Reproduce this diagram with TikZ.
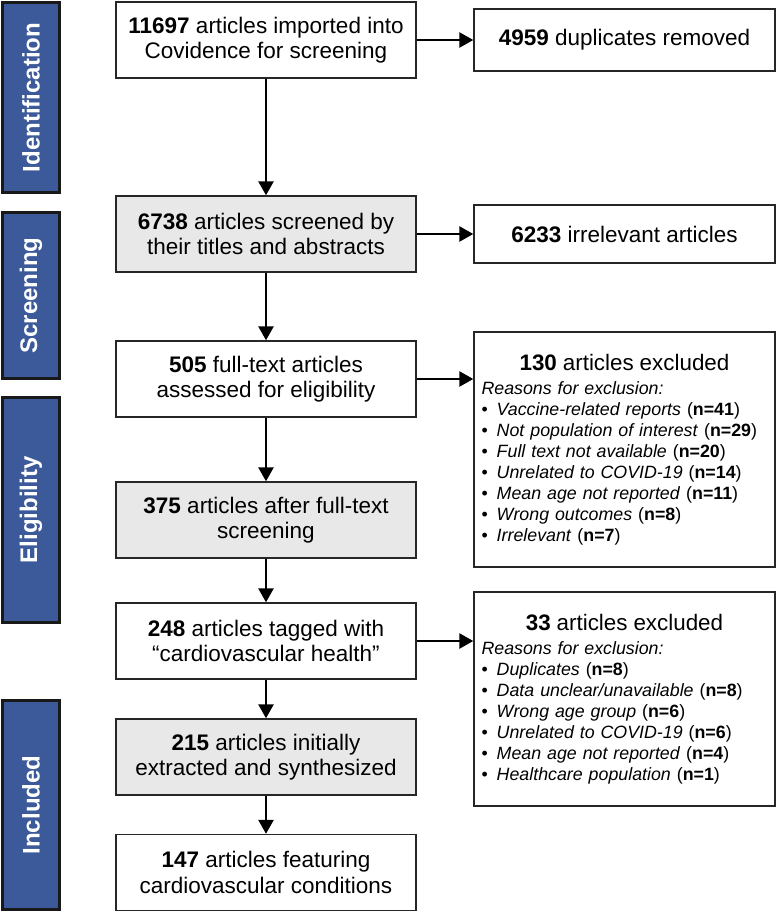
\documentclass[tikz,border=0pt]{standalone}
\usepackage{fontspec}
\setmainfont{Liberation Sans}
\usetikzlibrary{arrows.meta}
\definecolor{stageblue}{RGB}{60,90,153}
\definecolor{boxgray}{RGB}{232,232,232}
\newcommand{\exclhead}[1]{\makebox[286pt][c]{\fontsize{22.4}{25}\selectfont #1}}
\newcommand{\reason}[2]{\textbullet\hspace{9pt}\textit{#1} (\textbf{n=#2})}
\tikzset{
  flowbox/.style={draw=black!85,line width=1.4pt,minimum width=300pt,minimum height=76pt,inner sep=0pt,align=center,font=\fontsize{22.5}{25.5}\selectfont},
  graybox/.style={flowbox,fill=boxgray},
  sidebox/.style={draw=black!85,line width=1.4pt,minimum width=301pt,inner sep=0pt,align=center,font=\fontsize{22.5}{25.5}\selectfont},
  exclbox/.style={draw=black!85,line width=1.4pt,text width=286pt,inner xsep=7.5pt,align=left,font=\fontsize{17.8}{21}\selectfont},
  stagebar/.style={draw=black!90,line width=2.2pt,fill=stageblue,minimum width=57pt,inner sep=0pt,text=white,font=\bfseries\fontsize{24}{28}\selectfont},
  flowarrow/.style={line width=2.6pt,-{Triangle[length=14pt,width=15pt]}}
}
\begin{document}
\begin{tikzpicture}[x=1pt,y=-1pt]
\useasboundingbox (0,0) rectangle (777,913);
% stage bars
\node[stagebar,minimum height=190pt] (ident) at (31,97.5) {\rotatebox{90}{Identification}};
\node[stagebar,minimum height=166pt] (screen) at (31,295.5) {\rotatebox{90}{Screening}};
\node[stagebar,minimum height=225pt] (elig) at (31,510) {\rotatebox{90}{Eligibility}};
\node[stagebar,minimum height=209pt] (incl) at (31,805) {\rotatebox{90}{Included}};
% main column
\node[flowbox] (imported) at (266,40) {\textbf{11697} articles imported into\\Covidence for screening};
\node[graybox] (screened) at (266,234) {\textbf{6738} articles screened by\\their titles and abstracts};
\node[flowbox] (fulltext) at (266,379) {\textbf{505} full-text articles\\assessed for eligibility};
\node[graybox] (afterft) at (266,520) {\textbf{375} articles after full-text\\screening};
\node[flowbox] (tagged) at (266,641) {\textbf{248} articles tagged with\\``cardiovascular health''};
\node[graybox] (extracted) at (266,757) {\textbf{215} articles initially\\extracted and synthesized};
\node[flowbox] (featuring) at (266,872.5) {\textbf{147} articles featuring\\cardiovascular conditions};
% side column
\node[sidebox,minimum height=62pt] (dupl) at (624.5,40) {\textbf{4959} duplicates removed};
\node[sidebox,minimum height=58pt] (irrel) at (624.5,234) {\textbf{6233} irrelevant articles};
\node[exclbox,minimum height=235pt] (excl1) at (624.5,449.5) {\exclhead{\textbf{130} articles excluded}\\[3pt]
  \textit{Reasons for exclusion:}\\
  \reason{Vaccine-related reports}{41}\\
  \reason{Not population of interest}{29}\\
  \reason{Full text not available}{20}\\
  \reason{Unrelated to COVID-19}{14}\\
  \reason{Mean age not reported}{11}\\
  \reason{Wrong outcomes}{8}\\
  \reason{Irrelevant}{7}};
\node[exclbox,minimum height=214pt] (excl2) at (624.5,699) {\exclhead{\textbf{33} articles excluded}\\[3pt]
  \textit{Reasons for exclusion:}\\
  \reason{Duplicates}{8}\\
  \reason{Data unclear/unavailable}{8}\\
  \reason{Wrong age group}{6}\\
  \reason{Unrelated to COVID-19}{6}\\
  \reason{Mean age not reported}{4}\\
  \textbullet\hspace{9pt}\textit{Healthcare population} (\textbf{n=1})};
% arrows
\draw[flowarrow] (imported) -- (screened);
\draw[flowarrow] (screened) -- (fulltext);
\draw[flowarrow] (fulltext) -- (afterft);
\draw[flowarrow] (afterft) -- (tagged);
\draw[flowarrow] (tagged) -- (extracted);
\draw[flowarrow] (extracted) -- (featuring);
\draw[flowarrow] (imported) -- (dupl);
\draw[flowarrow] (screened) -- (irrel);
\draw[flowarrow] (fulltext.east) -- (fulltext.east -| excl1.west);
\draw[flowarrow] (tagged.east) -- (tagged.east -| excl2.west);
\end{tikzpicture}
\end{document}
